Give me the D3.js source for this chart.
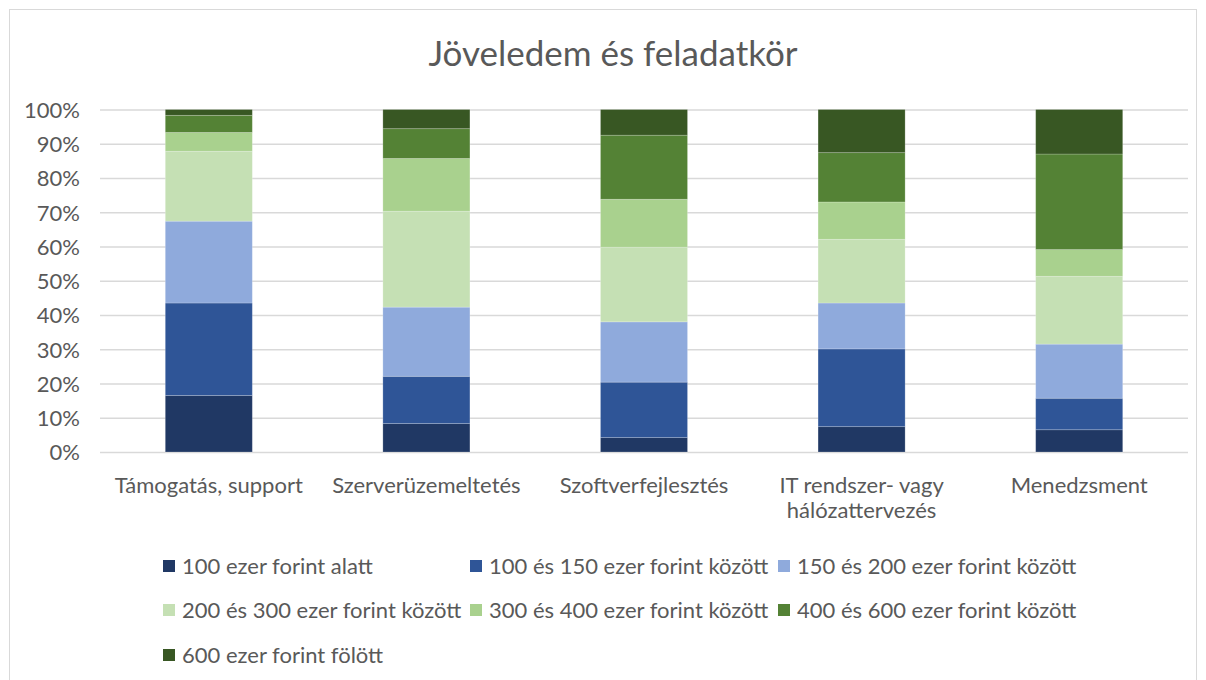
<!DOCTYPE html>
<html><head><meta charset="utf-8">
<script src="https://cdn.jsdelivr.net/npm/d3@7"></script>
<style>body{margin:0;background:#fff;font-family:Lato,"Open Sans",sans-serif;}</style>
</head><body><svg id="c" width="1206" height="680"></svg>
<script>
const categories = ["Támogatás, support","Szerverüzemeltetés","Szoftverfejlesztés","IT rendszer- vagy hálózattervezés","Menedzsment"];
const seriesNames = ["100 ezer forint alatt","100 és 150 ezer forint között","150 és 200 ezer forint között","200 és 300 ezer forint között","300 és 400 ezer forint között","400 és 600 ezer forint között","600 ezer forint fölött"];
const s1 = [16.5, 8.3, 4.2, 7.4, 6.5];
const s2 = [27.0, 13.8, 16.2, 22.7, 9.2];
const s3 = [23.9, 20.2, 17.6, 13.4, 15.8];
const s4 = [20.4, 28.0, 21.8, 18.6, 19.8];
const s5 = [5.5, 15.4, 14.0, 10.9, 7.8];
const s6 = [5.0, 8.7, 18.7, 14.4, 27.9];
const s7 = [1.7, 5.6, 7.5, 12.6, 13.0];
const colors = ["#203864","#2F5597","#8FAADC","#C5E0B4","#A9D18E","#548235","#385723"];
const yTicks = [0,0.1,0.2,0.3,0.4,0.5,0.6,0.7,0.8,0.9,1];
const title = "Jöveledem és feladatkör";

const series = [s1,s2,s3,s4,s5,s6,s7];
const rows = categories.map((c,i)=>{const o={cat:c};seriesNames.forEach((n,j)=>o[n]=series[j][i]);return o;});
const stacked = d3.stack().keys(seriesNames).offset(d3.stackOffsetExpand)(rows);

const svg = d3.select("#c");
const grey = "#595959";
const FS = 22;
svg.append("rect").attr("x",9.5).attr("y",9.5).attr("width",1187).attr("height",680).attr("fill","#fff").attr("stroke","#d9d9d9");

const x = d3.scaleBand().domain(categories).range([100,1188]).paddingInner(0.6).paddingOuter(0.3);
const y = d3.scaleLinear().domain([0,1]).range([452,109.5]);

svg.append("text").attr("x",613).attr("y",66).attr("text-anchor","middle").attr("fill",grey).attr("font-size",35).text(title);

const gy = svg.append("g").attr("transform","translate(100,0)")
  .call(d3.axisLeft(y).tickValues(yTicks).tickFormat(d3.format(".0%")).tickSize(-1088).tickPadding(20));
gy.select(".domain").remove();
gy.selectAll(".tick line").attr("stroke","#d9d9d9").attr("stroke-width",1.5);
gy.selectAll(".tick text").attr("fill",grey).attr("font-size",FS).attr("font-family","Lato").attr("dy","0.36em");

svg.append("g").selectAll("g").data(stacked).join("g").attr("fill",(d,i)=>colors[i])
  .selectAll("rect").data(d=>d).join("rect")
  .attr("x",d=>x(d.data.cat)).attr("width",x.bandwidth())
  .attr("y",d=>y(d[1])).attr("height",d=>y(d[0])-y(d[1]))
  .attr("stroke","#ffffff").attr("stroke-opacity",0.25).attr("stroke-width",0.8);

const gx = svg.append("g").attr("transform","translate(0,452)").call(d3.axisBottom(x).tickSize(0).tickPadding(0));
gx.select(".domain").remove();
gx.selectAll(".tick text").attr("fill",grey).attr("font-size",FS).attr("font-family","Lato").attr("dy",null).attr("y",null).text(null)
  .each(function(d){
    const t=d3.select(this);
    const lines = d==="IT rendszer- vagy hálózattervezés" ? ["IT rendszer- vagy","hálózattervezés"] : [d];
    lines.forEach((l,i)=>t.append("tspan").attr("x",0).attr("y",41+i*25).text(l));
  });

const legX = [163,470,778], legY = [566,610,655];
const lg = svg.append("g").selectAll("g").data(seriesNames).join("g")
  .attr("transform",(d,i)=>`translate(${legX[i%3]},${legY[Math.floor(i/3)]})`);
lg.append("rect").attr("x",0).attr("y",-6).attr("width",12).attr("height",12).attr("fill",(d,i)=>colors[i]);
lg.append("text").attr("x",19).attr("y",0).attr("dy","0.36em").attr("fill",grey).attr("font-size",FS).text(d=>d);
</script></body></html>
